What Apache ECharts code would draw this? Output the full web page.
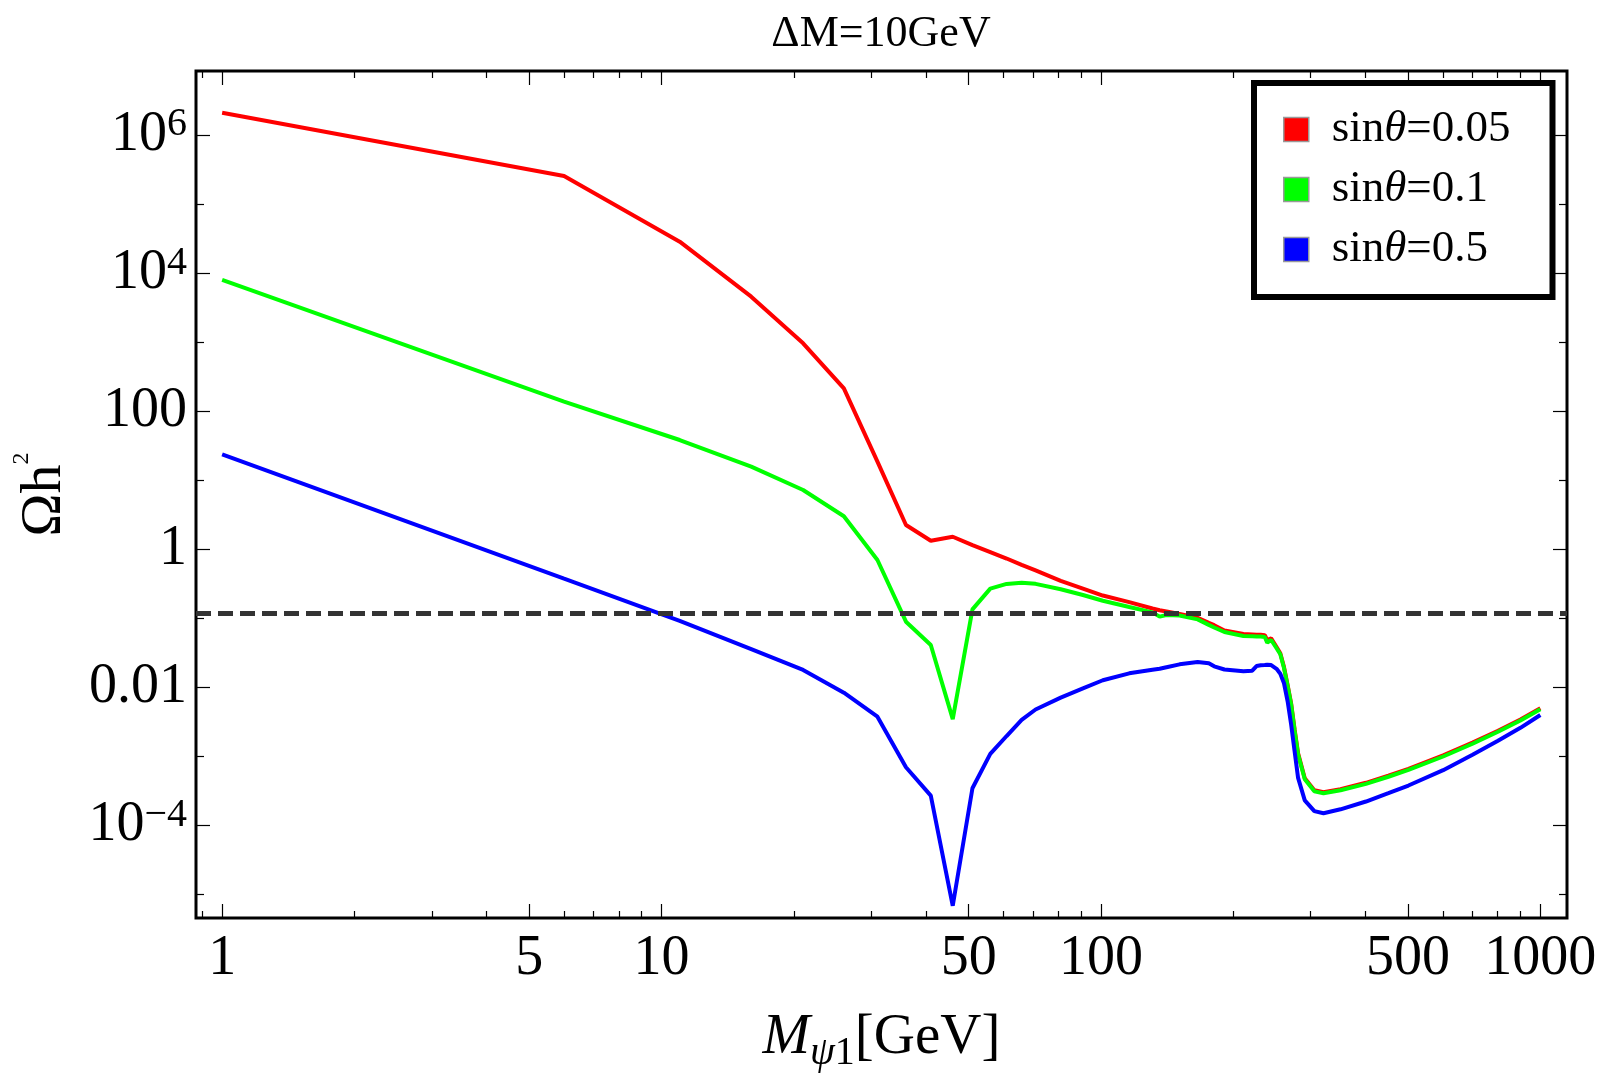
<!DOCTYPE html>
<html>
<head>
<meta charset="utf-8">
<title>ΔM=10GeV</title>
<script src="https://cdn.jsdelivr.net/npm/echarts@6.0.0/dist/echarts.min.js"></script>
<style>
    html, body {margin:0;padding:0;background:#fff}
    #chart {width:1600px;height:1074px}
</style>
</head>
<body>
<div id="chart"></div>
<script>
    // M_psi1 [GeV], shared by the three curves
    var mass = [1, 6, 11, 16, 21, 26, 31, 36, 41, 46,
        51, 56, 61, 66, 71, 81, 91, 101, 116, 131,
        136, 141, 151, 166, 176, 181, 191, 211, 221, 226,
        231, 236, 239, 244, 251, 256, 261, 266, 271, 276,
        281, 291, 306, 321, 351, 401, 451, 501, 601, 701,
        801, 901, 1000];

    // Omega h^2, sin(theta)=0.05
    var omegaSin005 = [2.09e6, 2.54e5, 2.84e4, 4540, 959, 214, 18.6, 2.25, 1.33, 1.52,
        1.15, 0.912, 0.735, 0.594, 0.494, 0.349, 0.270, 0.214, 0.172, 0.139,
        0.131, 0.126, 0.116, 0.102, 0.0859, 0.0796, 0.0667, 0.0594, 0.0586, 0.0581,
        0.0577, 0.0569, 0.0486, 0.0514, 0.0385, 0.0313, 0.0197, 0.0108, 0.00582, 0.00243,
        0.00111, 4.84e-4, 3.24e-4, 3.03e-4, 3.35e-4, 4.16e-4, 5.27e-4, 6.62e-4, 1.04e-3, 1.59e-3,
        2.36e-3, 3.44e-3, 4.99e-3];

    // Omega h^2, sin(theta)=0.1
    var omegaSin01 = [7930, 137, 38.2, 15.7, 7.23, 3.01, 0.700, 0.0895, 0.0411, 0.00347,
        0.135, 0.269, 0.315, 0.328, 0.316, 0.264, 0.218, 0.180, 0.146, 0.122,
        0.106, 0.112, 0.110, 0.0966, 0.0804, 0.0738, 0.0634, 0.0556, 0.0550, 0.0547,
        0.0546, 0.0537, 0.0445, 0.0486, 0.0369, 0.0302, 0.0191, 0.0105, 0.00562, 0.00234,
        0.00107, 4.68e-4, 3.13e-4, 2.93e-4, 3.24e-4, 4.02e-4, 5.09e-4, 6.40e-4, 1.00e-3, 1.53e-3,
        2.28e-3, 3.32e-3, 4.82e-3];

    // Omega h^2, sin(theta)=0.5
    var omegaSin05 = [23.7, 0.375, 0.0923, 0.0359, 0.0179, 0.00839, 0.00377, 6.98e-4, 2.71e-4, 6.9e-6,
        3.47e-4, 1.09e-3, 1.98e-3, 3.38e-3, 4.79e-3, 7.11e-3, 9.66e-3, 0.0127, 0.0160, 0.0180,
        0.0186, 0.0196, 0.0216, 0.0234, 0.0224, 0.0202, 0.0182, 0.0172, 0.0175, 0.0204,
        0.0209, 0.0211, 0.0213, 0.0211, 0.0186, 0.0158, 0.0115, 0.00631, 0.00288, 0.00117,
        4.90e-4, 2.32e-4, 1.62e-4, 1.51e-4, 1.72e-4, 2.23e-4, 2.94e-4, 3.80e-4, 6.34e-4, 1.06e-3,
        1.69e-3, 2.60e-3, 3.99e-3];

    var seriesNames = ['sinθ=0.05', 'sinθ=0.1', 'sinθ=0.5'];
    var relicDensity = 0.12;

    var xMajorTicks = [1, 5, 10, 50, 100, 500, 1000];
    var xTickLabels = ['1', '5', '10', '50', '100', '500', '1000'];
    var xMinorTicks = [0.9, 2, 3, 4, 6, 7, 8, 9, 20, 30, 40, 60, 70, 80, 90, 200, 300, 400, 600, 700, 800, 900];
    var yMajorTicks = [1e-4, 0.01, 1, 100, 1e4, 1e6];
    var yTickLabels = ['10^−4', '0.01', '1', '100', '10^4', '10^6'];
    var yMinorTicks = [1e-5, 1e-3, 0.1, 10, 1e3, 1e5];

    var FONT = 'Liberation Serif';
    var xMin = 0.872, xMax = 1150;
    var yMin = 4.59e-6, yMax = 8.41e6;

    function pairs(ys) {
        return mass.map(function (m, i) { return [m, ys[i]]; });
    }

    // '10^4' -> base + superscript rich tokens
    function richLabel(txt) {
        var p = txt.split('^');
        return '{m|' + p[0] + '}' + (p.length > 1 ? '{s|' + p[1] + '}' : '');
    }

    function pickLabel(ticks, labels, v) {
        for (var i = 0; i < ticks.length; i++) {
            if (Math.abs(Math.log10(ticks[i]) - Math.log10(v)) < 1e-6) return richLabel(labels[i]);
        }
        return '';
    }

    var labelRich = {
        m: {fontFamily: FONT, fontSize: 56, lineHeight: 60, color: '#000'},
        s: {fontFamily: FONT, fontSize: 40, lineHeight: 26, verticalAlign: 'top', color: '#000'}
    };

    function makeAxis(kind, pos, ticks, len, labels) {
        var ax = {
            type: 'log',
            position: pos,
            min: kind === 'x' ? xMin : yMin,
            max: kind === 'x' ? xMax : yMax,
            axisLine: {show: false},
            splitLine: {show: false},
            minorTick: {show: false},
            minorSplitLine: {show: false},
            axisTick: {show: true, inside: true, length: len, customValues: ticks,
                lineStyle: {color: '#000', width: 1.2}},
            axisLabel: {show: false}
        };
        if (labels) {
            ax.axisLabel = {
                show: true,
                customValues: ticks,
                margin: kind === 'x' ? 11 : 9,
                rich: labelRich,
                formatter: function (v) { return pickLabel(ticks, labels, v); }
            };
        }
        return ax;
    }

    var xBottom = makeAxis('x', 'bottom', xMajorTicks, 14, xTickLabels);
    xBottom.name = '{i|M}{si|ψ}{s|1}{n|[GeV]}';
    xBottom.nameLocation = 'middle';
    xBottom.nameGap = 85;
    xBottom.nameMoveOverlap = false;
    xBottom.nameTextStyle = {
        rich: {
            i: {fontFamily: FONT, fontSize: 57, fontStyle: 'italic', lineHeight: 70, color: '#000'},
            si: {fontFamily: FONT, fontSize: 40, fontStyle: 'italic', lineHeight: 28, verticalAlign: 'bottom', color: '#000'},
            s: {fontFamily: FONT, fontSize: 40, lineHeight: 26, verticalAlign: 'bottom', color: '#000'},
            n: {fontFamily: FONT, fontSize: 57, lineHeight: 70, color: '#000'}
        }
    };

    var yLeft = makeAxis('y', 'left', yMajorTicks, 14, yTickLabels);
    yLeft.name = '{m|Ωh}{s|2}';
    yLeft.nameLocation = 'middle';
    yLeft.nameRotate = 90;
    yLeft.nameGap = 116;
    yLeft.nameMoveOverlap = false;
    yLeft.nameTextStyle = {
        rich: {
            m: {fontFamily: FONT, fontSize: 58, lineHeight: 70, color: '#000'},
            s: {fontFamily: FONT, fontSize: 24, lineHeight: 50, verticalAlign: 'top', color: '#000'}
        }
    };

    var chart = echarts.init(document.getElementById('chart'));
    var option = {
        animation: false,
        backgroundColor: '#fff',
        title: {
            text: 'ΔM=10GeV',
            left: 881,
            top: 12,
            padding: 0,
            textAlign: 'center',
            textStyle: {fontFamily: FONT, fontSize: 44, lineHeight: 44, fontWeight: 'normal', color: '#000'}
        },
        grid: {
            left: 196, right: 33, top: 71, bottom: 156,
            show: true, borderColor: '#000', borderWidth: 3,
            containLabel: false, outerBoundsMode: 'none'
        },
        legend: {
            data: seriesNames,
            orient: 'vertical',
            left: 1254,
            top: 83,
            padding: [24, 42, 25, 29],
            itemGap: 15,
            itemWidth: 25,
            itemHeight: 24,
            icon: 'rect',
            selectedMode: false,
            backgroundColor: '#fff',
            borderColor: '#000',
            borderWidth: 6,
            itemStyle: {borderColor: '#999', borderWidth: 1.5},
            formatter: function (name) {
                return '{g| }' + name.replace('sinθ', '{n|sin}{i|θ}{n|') + '}';
            },
            textStyle: {
                rich: {
                    g: {fontFamily: FONT, fontSize: 45, width: 18},
                    n: {fontFamily: FONT, fontSize: 45, color: '#000'},
                    i: {fontFamily: FONT, fontSize: 45, fontStyle: 'italic', color: '#000'}
                }
            }
        },
        xAxis: [
            xBottom,
            makeAxis('x', 'bottom', xMinorTicks, 7),
            makeAxis('x', 'top', xMajorTicks, 14),
            makeAxis('x', 'top', xMinorTicks, 7)
        ],
        yAxis: [
            yLeft,
            makeAxis('y', 'left', yMinorTicks, 8),
            makeAxis('y', 'right', yMajorTicks, 14),
            makeAxis('y', 'right', yMinorTicks, 8)
        ],
        series: [
            {
                name: seriesNames[0], type: 'line', data: pairs(omegaSin005),
                symbol: 'none', showSymbol: false,
                lineStyle: {color: '#ff0000', width: 4},
                itemStyle: {color: '#ff0000'}
            },
            {
                name: seriesNames[1], type: 'line', data: pairs(omegaSin01),
                symbol: 'none', showSymbol: false,
                lineStyle: {color: '#00ff00', width: 4},
                itemStyle: {color: '#00ff00'}
            },
            {
                name: seriesNames[2], type: 'line', data: pairs(omegaSin05),
                symbol: 'none', showSymbol: false,
                lineStyle: {color: '#0000ff', width: 4},
                itemStyle: {color: '#0000ff'},
                // relic density line
                markLine: {
                    silent: true,
                    symbol: ['none', 'none'],
                    label: {show: false},
                    lineStyle: {color: '#333', width: 5, type: [15, 7], opacity: 1},
                    data: [{yAxis: relicDensity}]
                }
            }
        ]
    };
    chart.setOption(option);
</script>
</body>
</html>
